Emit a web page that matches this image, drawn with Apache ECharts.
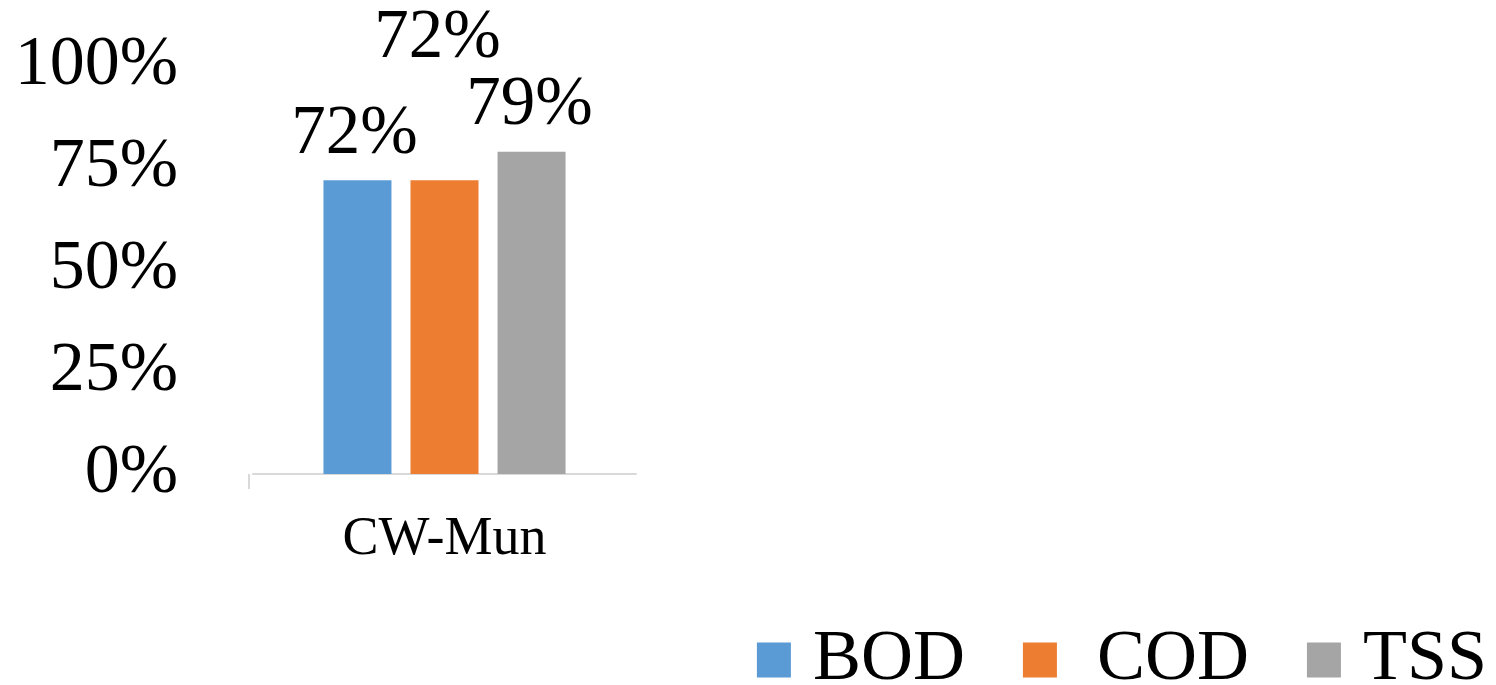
<!DOCTYPE html>
<html>
<head>
<meta charset="utf-8">
<script src="https://cdn.jsdelivr.net/npm/echarts@6/dist/echarts.min.js"></script>
<style>
    html, body { margin: 0; padding: 0; background: #fff; }
    #chart { width: 1496px; height: 685px; }
</style>
</head>
<body>
<div id="chart"></div>
<script>
// 数据
var categories = ['CW-Mun'];
var seriesNames = ['BOD', 'COD', 'TSS'];
var bodValues = [72];
var codValues = [72];
var tssValues = [79];
var yTicks = [0, 25, 50, 75, 100];

var FONT = '"Liberation Serif", "Times New Roman", serif';

var myChart = echarts.init(document.getElementById('chart'));

function labelStyle(offset) {
    return {
        show: true,
        position: 'top',
        distance: 11,
        offset: offset || [0, 0],
        formatter: '{c}%',
        color: '#000',
        fontFamily: FONT,
        fontSize: 69
    };
}

var option = {
    animation: false,
    color: ['#5B9BD5', '#ED7D31', '#A5A5A5'],
    grid: {
        left: 253,
        right: 860,
        top: 66,
        bottom: 211
    },
    legend: {
        data: seriesNames,
        right: 4,
        top: 619,
        itemWidth: 34,
        itemHeight: 35,
        itemGap: 58,
        icon: 'rect',
        formatter: function (name) {
            return name === 'COD' ? ' COD' : name;
        },
        textStyle: {
            color: '#000',
            fontFamily: FONT,
            fontSize: 72,
            padding: [0, 0, 0, 17]
        }
    },
    xAxis: {
        type: 'category',
        data: categories,
        axisLine: { lineStyle: { color: '#D9D9D9', width: 2 } },
        axisTick: { show: false },
        axisLabel: {
            margin: 39,
            color: '#000',
            fontFamily: FONT,
            fontSize: 54
        }
    },
    yAxis: {
        type: 'value',
        min: yTicks[0],
        max: yTicks[yTicks.length - 1],
        interval: 25,
        splitLine: { show: false },
        axisLine: { show: false },
        axisTick: { show: false },
        axisLabel: {
            margin: 75,
            formatter: '{value}%',
            color: '#000',
            fontFamily: FONT,
            fontSize: 70
        }
    },
    graphic: [{
        type: 'line',
        shape: { x1: 249, y1: 474, x2: 249, y2: 489 },
        style: { stroke: '#D9D9D9', lineWidth: 2 }
    }],
    series: [{
        name: seriesNames[0],
        type: 'bar',
        data: bodValues,
        barWidth: 68,
        barGap: '28%',
        label: labelStyle([-3, 0])
    }, {
        name: seriesNames[1],
        type: 'bar',
        data: codValues,
        barWidth: 68,
        barGap: '28%',
        label: labelStyle([-7, -96])
    }, {
        name: seriesNames[2],
        type: 'bar',
        data: tssValues,
        barWidth: 68,
        barGap: '28%',
        label: labelStyle([-2, 0])
    }]
};

myChart.setOption(option);
</script>
</body>
</html>
